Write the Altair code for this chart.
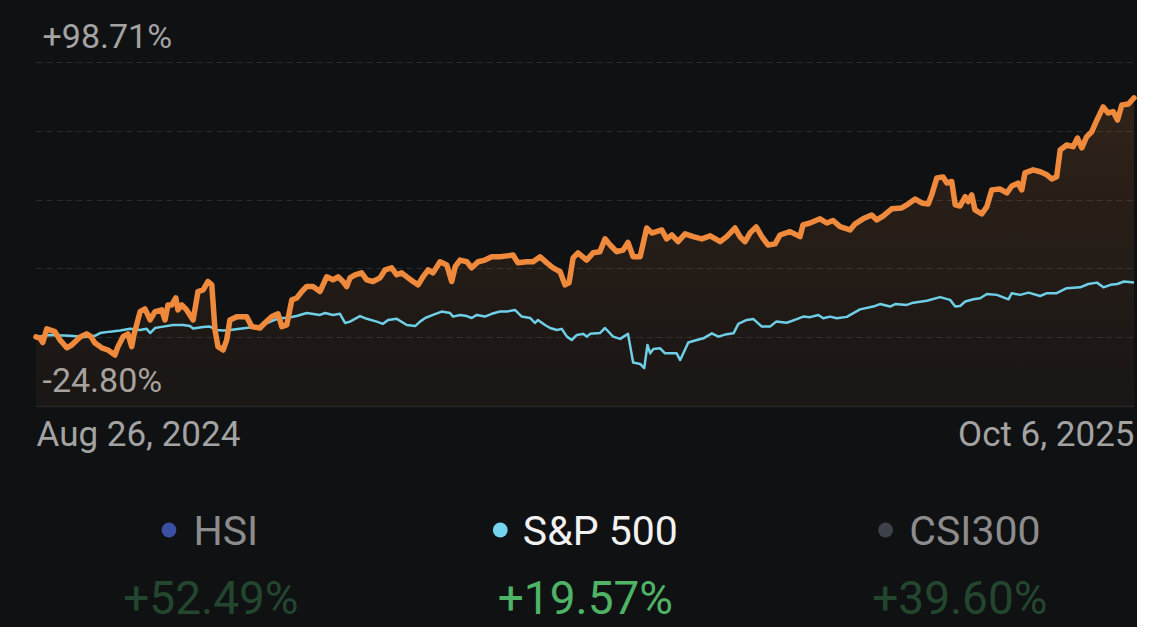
import altair as alt
import pandas as pd

# ---- data (day offset from Aug 26, 2024; % change) ----
main_day = [0, 1.5, 2.5, 4.0, 7.0, 8.9, 11.4, 13.2, 16.3, 18.7,
            20.3, 21.8, 24.3, 26.6, 29.2, 30.3, 32.2, 34.0, 35.4, 36.2,
            38.5, 40.3, 42.2, 44.0, 46.5, 47.7, 48.8, 50.2, 51.7, 52.5,
            53.9, 55.7, 58.1, 59.9, 61.8, 63.6, 65.0, 66.2, 67.3, 69.2,
            70.5, 71.7, 74.2, 77.9, 79.8, 82.8, 84.7, 87.2, 89.5, 90.9,
            92.7, 94.6, 96.4, 98.3, 100.1, 102.4, 105.0, 107.5, 109.8, 111.7,
            113.5, 114.9, 116.1, 118.0, 120.4, 122.3, 124.6, 127.2, 129.1, 131.5,
            133.4, 135.2, 137.6, 139.4, 141.3, 143.1, 145.0, 146.8, 149.4, 151.9,
            153.7, 155.0, 156.8, 159.3, 161.1, 163.5, 166.0, 168.5, 171.6, 174.1,
            176.4, 178.2, 181.5, 183.8, 186.4, 188.9, 191.2, 193.8, 195.6, 197.1,
            198.6, 200.4, 203.6, 206.0, 208.5, 210.4, 212.3, 214.7, 217.1, 218.9,
            220.8, 223.4, 225.8, 227.7, 231.4, 233.2, 235.1, 237.4, 240.0, 243.0,
            246.2, 249.3, 253.0, 255.4, 258.5, 260.3, 262.2, 264.0, 266.3, 268.4,
            270.7, 273.3, 275.1, 278.8, 282.5, 283.6, 286.2, 289.9, 292.4, 294.7,
            297.3, 301.0, 302.9, 305.8, 309.0, 310.9, 313.2, 316.4, 320.1, 322.5,
            325.1, 327.5, 329.9, 331.2, 333.1, 335.4, 336.8, 338.6, 339.9, 341.7,
            343.6, 344.7, 346.0, 347.2, 349.7, 351.6, 353.4, 356.5, 359.0, 360.8,
            363.1, 364.5, 365.7, 368.7, 371.3, 373.8, 375.6, 377.4, 378.7, 381.1,
            383.5, 385.1, 386.7, 388.5, 390.4, 392.3, 394.6, 396.4, 398.3, 399.9,
            401.5, 403.9, 406.0]
main_pct = [0.0, -0.4, -2.0, 2.9, 1.9, -1.1, -3.9, -2.9, 0.0, 1.1,
            0.1, -2.2, -3.9, -4.7, -6.5, -3.5, 0.1, 1.1, -3.5, 0.7,
            9.1, 10.1, 6.1, 9.1, 9.7, 6.1, 11.5, 11.5, 14.0, 9.7,
            11.5, 9.7, 6.1, 16.3, 16.9, 19.9, 18.7, 2.5, -3.5, -4.7,
            -1.1, 6.1, 7.2, 7.2, 3.7, 3.2, 5.1, 7.3, 8.3, 3.7,
            4.3, 13.3, 14.0, 16.3, 18.1, 18.1, 16.3, 21.6, 20.5, 21.6,
            19.9, 18.1, 21.2, 22.3, 23.0, 20.5, 19.9, 21.2, 24.1, 24.8,
            22.3, 23.0, 21.2, 19.9, 18.7, 21.6, 24.1, 23.0, 27.0, 25.8,
            19.9, 25.2, 27.6, 27.0, 24.8, 27.0, 27.6, 28.8, 28.8, 29.1,
            29.4, 26.6, 27.0, 27.0, 28.8, 26.6, 24.8, 23.4, 18.7, 19.4,
            28.4, 30.2, 27.6, 30.2, 30.6, 35.2, 33.0, 30.6, 31.2, 33.9,
            28.8, 28.8, 39.1, 37.3, 38.4, 35.2, 36.6, 34.2, 37.0, 36.0,
            35.2, 36.3, 34.2, 36.0, 39.1, 36.0, 34.2, 37.3, 39.5, 36.0,
            33.0, 33.4, 36.6, 37.8, 36.0, 40.2, 40.9, 42.4, 40.9, 41.8,
            39.6, 38.4, 40.6, 42.4, 43.8, 42.0, 43.4, 46.0, 46.3, 47.7,
            49.5, 48.1, 47.7, 51.0, 57.1, 57.4, 55.3, 55.8, 47.4, 47.0,
            50.4, 48.6, 51.0, 45.6, 44.2, 46.8, 52.8, 53.1, 51.7, 54.2,
            55.2, 52.8, 58.9, 60.0, 59.3, 58.2, 56.7, 57.5, 67.1, 68.9,
            68.3, 71.4, 67.9, 71.9, 73.7, 77.9, 82.6, 80.4, 80.9, 77.9,
            83.3, 83.6, 85.8]

sp_day = [0, 5.2, 12.6, 18.1, 21.8, 23.7, 27.4, 31.1, 34.8, 38.5,
          40.9, 42.2, 44.0, 47.0, 50.7, 54.4, 56.9, 58.1, 61.8, 64.3,
          66.8, 69.2, 71.7, 75.4, 81.6, 83.9, 87.6, 90.2, 92.7, 96.4,
          100.1, 105.0, 106.9, 109.8, 112.4, 114.3, 116.1, 119.8, 122.3, 126.0,
          128.3, 130.2, 133.4, 137.1, 140.2, 142.0, 143.9, 146.8, 150.0, 153.1,
          154.2, 156.8, 159.3, 161.1, 163.0, 166.0, 168.5, 171.6, 174.1, 177.1,
          179.6, 182.7, 184.5, 185.6, 188.2, 190.1, 192.6, 194.4, 196.3, 198.1,
          200.0, 202.3, 203.7, 204.9, 208.5, 210.4, 213.4, 216.0, 218.9, 220.8,
          223.4, 224.9, 226.1, 227.1, 228.3, 230.8, 232.6, 236.9, 238.2, 241.2,
          243.7, 246.8, 249.9, 252.3, 255.4, 257.9, 259.7, 262.8, 265.3, 268.4,
          271.4, 273.7, 277.6, 281.3, 283.7, 286.2, 289.3, 291.1, 293.6, 296.1,
          299.8, 304.7, 309.6, 312.1, 315.8, 317.7, 322.0, 324.4, 329.4, 334.3,
          338.0, 339.9, 341.7, 343.6, 346.6, 349.1, 351.6, 355.3, 359.6, 360.8,
          363.9, 367.0, 371.3, 373.8, 377.4, 381.1, 386.1, 389.1, 392.3, 394.7,
          397.3, 399.8, 402.3, 406.0]
sp_pct = [0.0, 0.7, 0.4, 0.0, 0.4, 1.4, 1.9, 2.3, 2.9, 2.5,
          2.9, 1.4, 3.2, 3.7, 4.3, 4.3, 3.9, 3.0, 3.6, 3.7,
          2.5, 2.3, 2.5, 2.9, 3.7, 4.3, 5.9, 6.8, 6.8, 7.5,
          8.6, 7.9, 8.6, 7.9, 8.3, 5.0, 5.5, 7.5, 6.5, 5.5,
          4.7, 6.1, 6.5, 4.3, 3.9, 5.5, 6.8, 7.9, 9.1, 8.6,
          7.3, 7.9, 7.5, 6.8, 7.9, 7.3, 8.3, 9.1, 9.1, 9.7,
          7.3, 6.8, 5.0, 6.1, 4.3, 3.2, 2.5, 2.9, 0.1, -1.1,
          0.7, 1.1, 0.1, 1.1, 1.4, 3.2, 0.1, -0.7, 1.1, -9.2,
          -9.7, -11.2, -2.9, -5.9, -4.3, -4.1, -5.9, -5.9, -8.3, -2.0,
          -1.3, -0.5, 1.3, 0.1, 1.0, 1.3, 4.7, 6.1, 6.4, 3.7,
          3.7, 5.5, 5.1, 6.4, 7.3, 7.1, 7.9, 6.7, 7.3, 6.7,
          7.2, 9.9, 10.9, 11.8, 10.9, 11.8, 11.5, 12.3, 13.0, 14.3,
          13.3, 10.9, 11.1, 12.7, 13.5, 13.9, 15.4, 15.1, 13.5, 15.7,
          15.1, 15.9, 14.7, 15.7, 15.7, 17.5, 17.8, 19.0, 19.5, 17.8,
          18.7, 19.0, 19.9, 19.57]

y_max = 98.71
y_min = -24.80
total_days = 406
x_labels = ["Aug 26, 2024", "Oct 6, 2025"]

legend_names = ["HSI", "S&P 500", "CSI300"]
legend_returns = ["+52.49%", "+19.57%", "+39.60%"]

# ---- styles ----
BG = "#101113"
ORANGE = "#ef8a3d"
BLUE = "#6fcfe6"
dot_colors = ["#3b4fa3", "#74d4ee", "#3d424a"]
label_colors = ["#8c8c8c", "#f2f2f2", "#8c8c8c"]
value_colors = ["#23462e", "#4fb366", "#23462e"]
FONT = "Roboto"

main_df = pd.DataFrame({"day": main_day, "pct": main_pct})
sp_df = pd.DataFrame({"day": sp_day, "pct": sp_pct})

step = (y_max - y_min) / 5
grid_vals = [round(y_min + i * step, 4) for i in range(6)]
top = y_max + 62 * (y_max - y_min) / 344  # room above top gridline for the label

xscale = alt.Scale(domain=[0, total_days], nice=False, zero=False)
yscale = alt.Scale(domain=[y_min, top], nice=False, zero=False)

x_enc = alt.X(
    "day:Q", scale=xscale,
    axis=alt.Axis(
        values=[0, total_days],
        labelExpr=f"datum.value == 0 ? '{x_labels[0]}' : '{x_labels[1]}'",
        labelFlush=True, labelLimit=0, grid=False, ticks=False, tickSize=0,
        domain=True, domainColor="#26272a", domainWidth=1.5,
        labelPadding=11, labelFontSize=35, labelColor="#a3a3a3",
        labelFont=FONT, title=None,
    ),
)
y_enc = alt.Y(
    "pct:Q", scale=yscale,
    axis=alt.Axis(
        values=grid_vals,
        labelExpr="(datum.value > 90 || datum.value < -20) ? ((datum.value < 0 ? '-' : '+') + format(abs(datum.value), '.2f') + '%') : ''",
        grid=True, gridDash=[6, 4], gridColor="#2a2b2e", gridWidth=1,
        domain=False, ticks=False, tickSize=0,
        labelAlign="left", labelPadding=-6, labelBaseline="alphabetic",
        labelOffset=-15, labelFontSize=34, labelColor="#a3a3a3",
        labelFont=FONT, labelOverlap=False, labelLimit=0, title=None,
    ),
)

gradient = alt.Gradient(
    gradient="linear",
    stops=[alt.GradientStop(color="rgba(240,140,60,0.14)", offset=0),
           alt.GradientStop(color="rgba(240,140,60,0.04)", offset=1)],
    x1=1, x2=1, y1=0, y2=1,
)

area = alt.Chart(main_df).mark_area(color=gradient).encode(
    x=x_enc, y=y_enc, y2=alt.datum(y_min)
)
sp_line = alt.Chart(sp_df).mark_line(color=BLUE, strokeWidth=2.5, strokeJoin="round").encode(
    x=x_enc, y=y_enc
)
main_line = alt.Chart(main_df).mark_line(
    color=ORANGE, strokeWidth=5.5, strokeJoin="round", strokeCap="round"
).encode(x=x_enc, y=y_enc)

main = alt.layer(area, sp_line, main_line).properties(width=1098, height=406)

# ---- custom legend ----
leg_df = pd.DataFrame({
    "name": legend_names,
    "ret": legend_returns,
    "slot": [i + 0.5 for i in range(len(legend_names))],
    "dot_color": dot_colors,
    "label_color": label_colors,
    "value_color": value_colors,
})
lscale = alt.Scale(domain=[0.033, 2.965], nice=False, zero=False)

base = alt.Chart(leg_df)
dots = base.transform_calculate(
    dot_x="datum.slot - (length(datum.name) * 10.8 + 9.5) / 374.5"
).mark_circle(size=220, opacity=1).encode(
    x=alt.X("dot_x:Q", scale=lscale, axis=None),
    y=alt.value(78),
    color=alt.Color("dot_color:N", scale=None),
)
labels = base.mark_text(
    align="center", baseline="middle", dx=15, fontSize=41, font=FONT
).encode(
    x=alt.X("slot:Q", scale=lscale, axis=None),
    y=alt.value(81),
    text="name:N",
    color=alt.Color("label_color:N", scale=None),
)
values = base.mark_text(
    align="center", baseline="middle", fontSize=46, font=FONT
).encode(
    x=alt.X("slot:Q", scale=lscale, axis=None),
    y=alt.value(148),
    text="ret:N",
    color=alt.Color("value_color:N", scale=None),
)
legend = alt.layer(dots, labels, values).properties(width=1098, height=175)

chart = alt.vconcat(main, legend, spacing=0).properties(
    padding={"left": 33, "top": 0, "right": 0, "bottom": 0},
    background=BG,
).configure(font=FONT).configure_view(strokeWidth=0, stroke=None)

chart.save("out.html", embed_options={"renderer": "svg", "actions": False})
